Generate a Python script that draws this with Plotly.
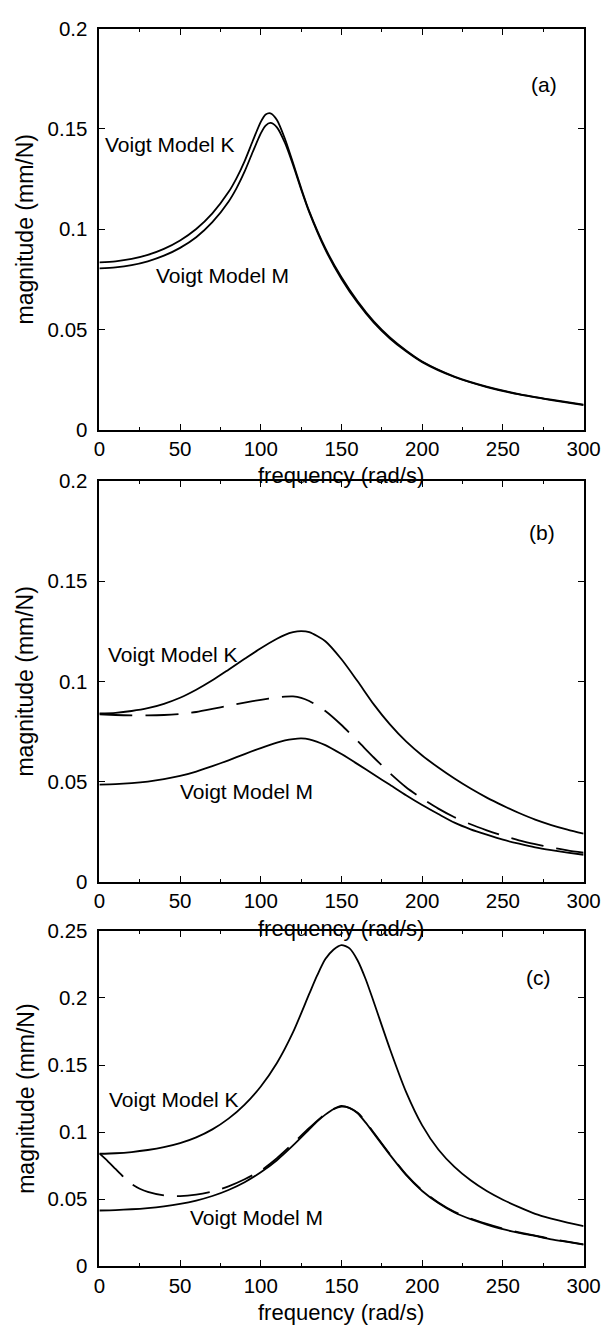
import plotly.graph_objects as go

# ---- panel (a) ----
freq_a = [0, 10, 20, 30, 40, 50, 60, 70, 80, 85, 90, 95, 100, 103, 106, 110, 115, 120, 125, 130,
          140, 150, 160, 170, 180, 190, 200, 220, 240, 260, 280, 300]
voigt_k_a = [0.0835, 0.0840, 0.0852, 0.0872, 0.0902, 0.0944, 0.1001, 0.1079, 0.1185, 0.1255,
             0.1340, 0.1440, 0.1535, 0.1572, 0.1578, 0.1545, 0.1450, 0.1330, 0.1205, 0.1090,
             0.0905, 0.0760, 0.0640, 0.0540, 0.0460, 0.0395, 0.0340, 0.0265, 0.0215, 0.0178,
             0.0150, 0.0125]
voigt_m_a = [0.0805, 0.0810, 0.0821, 0.0840, 0.0868, 0.0907, 0.0960, 0.1035, 0.1137, 0.1205,
             0.1288, 0.1385, 0.1478, 0.1517, 0.1530, 0.1508, 0.1430, 0.1320, 0.1198, 0.1085,
             0.0898, 0.0752, 0.0633, 0.0534, 0.0455, 0.0391, 0.0337, 0.0263, 0.0213, 0.0176,
             0.0148, 0.0123]

# ---- panel (b) ----
freq_b = [0, 10, 20, 30, 40, 50, 60, 70, 80, 90, 100, 110, 115, 120, 125, 130, 140, 150, 160,
          170, 180, 190, 200, 210, 220, 230, 240, 250, 260, 270, 280, 290, 300]
voigt_k_b = [0.0840, 0.0843, 0.0852, 0.0866, 0.0888, 0.0918, 0.0958, 0.1005, 0.1058, 0.1112,
             0.1165, 0.1212, 0.1232, 0.1245, 0.1250, 0.1245, 0.1200, 0.1110, 0.1000,
             0.0885, 0.0785, 0.0700, 0.0630, 0.0570, 0.0515, 0.0465, 0.0420, 0.0380, 0.0343,
             0.0310, 0.0283, 0.0260, 0.0240]
measured_b = [0.0835, 0.0832, 0.0830, 0.0830, 0.0832, 0.0837, 0.0847, 0.0862, 0.0878, 0.0894,
              0.0908, 0.0920, 0.0924, 0.0925, 0.0918, 0.0902, 0.0852, 0.0782, 0.0702,
              0.0620, 0.0542, 0.0472, 0.0415, 0.0365, 0.0322, 0.0287, 0.0257, 0.0230, 0.0207,
              0.0188, 0.0171, 0.0157, 0.0145]
voigt_m_b = [0.0485, 0.0487, 0.0492, 0.0500, 0.0512, 0.0528, 0.0550, 0.0577, 0.0606, 0.0637,
             0.0667, 0.0694, 0.0705, 0.0712, 0.0715, 0.0711, 0.0682, 0.0637, 0.0587,
             0.0535, 0.0484, 0.0432, 0.0383, 0.0338, 0.0295, 0.0262, 0.0235, 0.0210, 0.0190,
             0.0172, 0.0158, 0.0146, 0.0135]

# ---- panel (c) ----
freq_c = [0, 10, 20, 30, 40, 50, 60, 70, 80, 90, 100, 110, 120, 130, 135, 140, 145, 150, 155,
          160, 165, 170, 180, 190, 200, 210, 220, 230, 240, 250, 260, 270, 280, 290, 300]
voigt_k_c = [0.0838, 0.0842, 0.0851, 0.0866, 0.0887, 0.0917, 0.0960, 0.1020, 0.1100, 0.1205,
             0.1340, 0.1515, 0.1745, 0.2030, 0.2170, 0.2290, 0.2360, 0.2395, 0.2370,
             0.2280, 0.2140, 0.1970, 0.1620, 0.1300, 0.1050, 0.0870, 0.0740, 0.0640, 0.0560,
             0.0495, 0.0440, 0.0390, 0.0355, 0.0325, 0.0298]
voigt_m_c = [0.0415, 0.0418, 0.0424, 0.0433, 0.0446, 0.0464, 0.0489, 0.0523, 0.0568, 0.0626,
             0.0700, 0.0790, 0.0900, 0.1020, 0.1080, 0.1130, 0.1170, 0.1190, 0.1180,
             0.1140, 0.1070, 0.0990, 0.0830, 0.0680, 0.0560, 0.0470, 0.0400, 0.0350, 0.0310,
             0.0275, 0.0248, 0.0225, 0.0200, 0.0180, 0.0160]
freq_c_meas = [0, 5, 10, 15, 20, 25, 30, 40, 50, 60, 70, 80, 90, 100, 110, 120, 130, 140, 150,
               160, 170, 180, 190, 200, 210, 220, 230, 240, 250, 260, 270, 280, 290, 300]
measured_c = [0.0840, 0.0785, 0.0725, 0.0665, 0.0612, 0.0577, 0.0553, 0.0527, 0.0522, 0.0533,
              0.0556, 0.0595, 0.0648, 0.0712, 0.0805, 0.0915, 0.1030, 0.1135, 0.1195,
              0.1145, 0.0995, 0.0835, 0.0685, 0.0565, 0.0475, 0.0405, 0.0355, 0.0315, 0.0280,
              0.0252, 0.0228, 0.0203, 0.0183, 0.0163]

x_ticks = [0, 50, 100, 150, 200, 250, 300]
y_ticks_ab = [0, 0.05, 0.1, 0.15, 0.2]
y_ticks_c = [0, 0.05, 0.1, 0.15, 0.2, 0.25]
x_title = "frequency (rad/s)"
y_title = "magnitude (mm/N)"

W, H = 616, 1341
FONT = "Liberation Sans, Arial, Helvetica, sans-serif"
PLOT_L, PLOT_R = 97, 600
# (top, bottom) pixel rows of each panel's plot area
panels = [(17, 425), (477, 885), (935, 1276)]


def py(p):
    return 1 - p / H


fig = go.Figure()
solid = dict(color="black", width=1.8)
dashed = dict(color="black", width=1.8, dash="33px,13px")

series = [
    (1, freq_a, voigt_k_a, solid), (1, freq_a, voigt_m_a, solid),
    (2, freq_b, voigt_k_b, solid), (2, freq_b, measured_b, dashed), (2, freq_b, voigt_m_b, solid),
    (3, freq_c, voigt_k_c, solid), (3, freq_c_meas, measured_c, dashed), (3, freq_c, voigt_m_c, solid),
]
for idx, xs, ys, ln in series:
    sfx = "" if idx == 1 else str(idx)
    fig.add_trace(go.Scatter(x=xs, y=ys, mode="lines", line=dict(shape="spline", smoothing=0.7, **ln),
                             xaxis="x" + sfx, yaxis="y" + sfx, showlegend=False, hoverinfo="skip"))

axis_common = dict(showline=True, linecolor="black", linewidth=1.6, mirror="ticks",
                   ticks="inside", ticklen=6, tickwidth=1.3, tickcolor="black",
                   showgrid=False, zeroline=False, ticklabeloverflow="allow",
                   tickfont=dict(family=FONT, size=20.5, color="black"))

layout = dict(width=W, height=H, margin=dict(l=0, r=0, t=0, b=0),
              paper_bgcolor="white", plot_bgcolor="white", showlegend=False)

annotations = []
labels = [
    [("Voigt Model K", 2, 0.142), ("Voigt Model M", 34, 0.077), ("(a)", 266, 0.172)],
    [("Voigt Model K", 4, 0.1135), ("Voigt Model M", 49, 0.045), ("(b)", 265, 0.174)],
    [("Voigt Model K", 5, 0.124), ("Voigt Model M", 55, 0.036), ("(c)", 263, 0.215)],
]
for i, (top, bot) in enumerate(panels):
    n = i + 1
    sfx = "" if n == 1 else str(n)
    yt = y_ticks_c if n == 3 else y_ticks_ab
    layout["xaxis" + sfx] = dict(axis_common, domain=[PLOT_L / W, PLOT_R / W], range=[0, 300],
                                 tickvals=x_ticks, anchor="y" + sfx, ticklabelstandoff=0,
                                 minor=dict(ticks="inside", ticklen=3, tickwidth=1,
                                            tickcolor="black", dtick=25, showgrid=False))
    layout["yaxis" + sfx] = dict(axis_common, domain=[py(bot), py(top)], range=[0, yt[-1]],
                                 tickvals=yt, ticktext=[f"{v:g}" for v in yt], anchor="x" + sfx,
                                 ticklabelstandoff=6)

    annotations.append(dict(text=x_title, xref="paper", yref="paper",
                            x=(PLOT_L + PLOT_R) / 2 / W, y=py(bot + 47),
                            xanchor="center", yanchor="middle", showarrow=False,
                            font=dict(family=FONT, size=22, color="black")))
    annotations.append(dict(text=y_title, xref="paper", yref="paper",
                            x=20 / W, y=py((top + bot) / 2), textangle=-90,
                            xanchor="center", yanchor="middle", showarrow=False,
                            font=dict(family=FONT, size=23, color="black")))
    for txt, xv, yv in labels[i]:
        annotations.append(dict(text=txt, xref="x" + sfx, yref="y" + sfx, x=xv, y=yv,
                                xanchor="left", yanchor="middle", showarrow=False,
                                font=dict(family=FONT, size=21, color="black")))

layout["annotations"] = annotations
fig.update_layout(**layout)
fig.write_html("out.html")
